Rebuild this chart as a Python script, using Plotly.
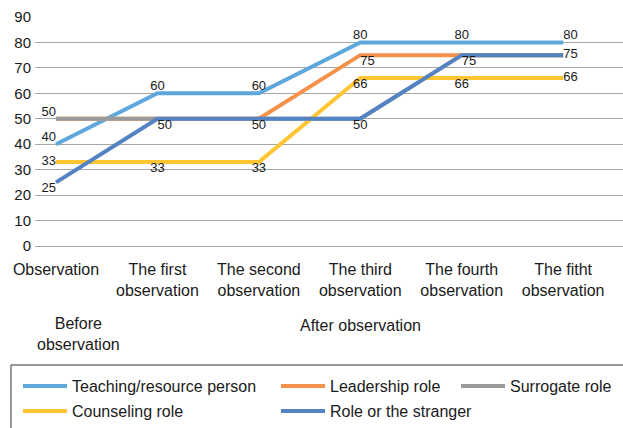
import plotly.graph_objects as go

categories = ["Observation", "The first<br>observation", "The second<br>observation",
              "The third<br>observation", "The fourth<br>observation", "The fitht<br>observation"]
x_idx = [0, 1, 2, 3, 4, 5]

teaching = [40, 60, 60, 80, 80, 80]
leadership = [50, 50, 50, 75, 75, 75]
surrogate = [50, 50, 50, 50, 75, 75]
counseling = [33, 33, 33, 66, 66, 66]
stranger = [25, 50, 50, 50, 75, 75]

y_ticks = [0, 10, 20, 30, 40, 50, 60, 70, 80, 90]

W, H = 623, 428
L, R, T, B = 35, 0, 17, 182

series = [
    dict(name="Teaching/resource person", y=teaching, color="#5DA7DD",
         show=[1, 1, 1, 1, 1, 1],
         pos=["top left", "top center", "top center", "top center", "top center", "top right"]),
    dict(name="Leadership role", y=leadership, color="#F4914A",
         show=[0, 0, 0, 1, 0, 0],
         pos=["top left", "bottom center", "bottom center", "bottom right", "bottom center", "middle right"]),
    dict(name="Surrogate role", y=surrogate, color="#9A9A9A",
         show=[1, 0, 0, 0, 0, 0],
         pos=["top left", "bottom center", "bottom center", "bottom center", "bottom center", "middle right"]),
    dict(name="Counseling role", y=counseling, color="#FFC532",
         show=[1, 1, 1, 1, 1, 1],
         pos=["middle left", "bottom center", "bottom center", "bottom center", "bottom center", "middle right"]),
    dict(name="Role or the stranger", y=stranger, color="#5383C3",
         show=[1, 1, 1, 1, 1, 1],
         pos=["bottom left", "bottom right", "bottom center", "bottom center", "bottom right", "middle right"]),
]

# legend placement (pixel positions of each entry in the boxed legend)
legend_px = [(18, 386), (276, 386), (456, 386), (18, 411), (276, 411)]

fig = go.Figure()
for i, s in enumerate(series):
    txt = [str(v) if sh else "" for v, sh in zip(s["y"], s["show"])]
    lname = "legend" if i == 0 else f"legend{i+1}"
    fig.add_trace(go.Scatter(
        x=x_idx, y=s["y"], name=s["name"], mode="lines+text",
        line=dict(color=s["color"], width=4),
        text=txt, textposition=s["pos"],
        textfont=dict(size=13, color="#1a1a1a"),
        legend=lname, hoverinfo="skip", cliponaxis=False,
    ))

font_family = "Liberation Sans, Arial, Helvetica, sans-serif"
legend_layouts = {}
for i, (px, py) in enumerate(legend_px):
    key = "legend" if i == 0 else f"legend{i+1}"
    legend_layouts[key] = dict(
        xref="container", yref="container",
        x=px / W, y=1 - py / H, xanchor="left", yanchor="middle",
        bgcolor="rgba(0,0,0,0)", borderwidth=0,
        font=dict(size=16, color="#1a1a1a", family=font_family),
        itemwidth=44, orientation="v", tracegroupgap=0,
    )

plot_w = W - L - R
plot_h = H - T - B

fig.update_layout(
    width=W, height=H,
    margin=dict(l=L, r=R, t=T, b=B, autoexpand=False),
    plot_bgcolor="white", paper_bgcolor="white",
    font=dict(family=font_family, color="#1a1a1a"),
    showlegend=True,
    **legend_layouts,
)

fig.update_xaxes(
    range=[-0.207, 5.59], tickvals=x_idx, ticktext=categories,
    showgrid=False, zeroline=False, showline=False, ticks="",
    tickfont=dict(size=16, color="#1a1a1a"), ticklabelstandoff=12,
)
fig.update_yaxes(
    range=[0, 90], tickvals=y_ticks, showgrid=True,
    gridcolor="#A6A6A6", gridwidth=1, zeroline=True, zerolinecolor="#A6A6A6",
    zerolinewidth=1, showline=False, ticks="",
    tickfont=dict(size=15, color="#1a1a1a"), ticklabelstandoff=3,
)

def py_paper(py):
    return (H - B - py) / plot_h

fig.add_annotation(x=0, y=py_paper(334), xref="x", yref="paper", xshift=22,
                   text="Before<br>observation", showarrow=False,
                   font=dict(size=16, color="#1a1a1a"), yanchor="middle")
fig.add_annotation(x=3, y=py_paper(325), xref="x", yref="paper",
                   text="After observation", showarrow=False,
                   font=dict(size=16, color="#1a1a1a"), yanchor="middle")

fig.add_shape(type="rect", xref="paper", yref="paper",
              x0=(11 - L) / plot_w, x1=(W + 5 - L) / plot_w,
              y0=py_paper(H + 5), y1=py_paper(365),
              line=dict(color="#333333", width=1), fillcolor="rgba(0,0,0,0)")

fig.write_html("out.html", config={"displayModeBar": False},
               post_script="document.body.style.margin='0px';")
